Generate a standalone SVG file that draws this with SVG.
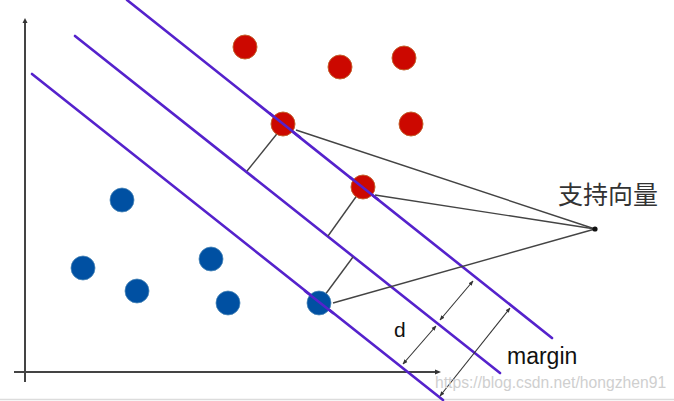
<svg xmlns="http://www.w3.org/2000/svg" width="674" height="401" viewBox="0 0 674 401">
<defs>
<marker id="ah" viewBox="0 0 10 10" refX="9" refY="5" markerWidth="5" markerHeight="5" orient="auto-start-reverse" markerUnits="userSpaceOnUse">
<path d="M0,1 L10,5 L0,9 z" fill="#333"/>
</marker>
<style>
.axis{stroke:#444;stroke-width:2;fill:none}
.hyper{stroke:#5522cc;stroke-width:2.6;fill:none;stroke-linecap:round}
.thin{stroke:#444;stroke-width:1.4;fill:none}
.dim{stroke:#333;stroke-width:1.1;fill:none;marker-start:url(#ah);marker-end:url(#ah)}
.red{fill:#cc0800;stroke:#c4602c;stroke-width:1}
.blue{fill:#0050a2;stroke:#4a86b8;stroke-width:0.8}
.lbl{font-family:"Liberation Sans",Arial,sans-serif;fill:#111}
</style>
</defs>
<rect width="674" height="401" fill="#fff"/>
<line x1="0" y1="399.5" x2="674" y2="399.5" stroke="#dcdcdc" stroke-width="1.5"/>
<g id="axes">
<line class="axis" x1="25" y1="21" x2="25" y2="382"/>
<line class="axis" x1="14" y1="372" x2="436" y2="372"/>
<path d="M22.5,23 L25,18 L27.5,23 z" fill="#333"/>
<path d="M435,369.5 L441,372 L435,374.5 z" fill="#333"/>
</g>
<g id="hyperplanes">
<line class="hyper" x1="127" y1="0" x2="552" y2="338"/>
<line class="hyper" x1="75" y1="36" x2="500" y2="373"/>
<line class="hyper" x1="32" y1="74" x2="443" y2="400"/>
</g>
<g id="connectors">
<line class="thin" x1="284" y1="125" x2="247" y2="171"/>
<line class="thin" x1="363" y1="187" x2="328" y2="236"/>
<line class="thin" x1="319" y1="303" x2="353" y2="257"/>
<line class="thin" x1="296" y1="130" x2="595" y2="229"/>
<line class="thin" x1="375" y1="195" x2="595" y2="229"/>
<line class="thin" x1="333" y1="303" x2="595" y2="229"/>
<line class="dim" x1="403" y1="364" x2="436" y2="326"/>
<line class="dim" x1="440" y1="320" x2="473" y2="281"/>
<line class="dim" x1="440" y1="396" x2="510" y2="308"/>
</g>
<g id="red-points">
<circle class="red" cx="245" cy="47" r="12"/>
<circle class="red" cx="340" cy="67" r="12"/>
<circle class="red" cx="404" cy="58" r="12"/>
<circle class="red" cx="411" cy="124" r="12"/>
<circle class="red" cx="283" cy="124" r="12"/>
<circle class="red" cx="363" cy="187" r="12"/>
</g>
<g id="blue-points">
<circle class="blue" cx="122" cy="200" r="12"/>
<circle class="blue" cx="83" cy="268" r="12"/>
<circle class="blue" cx="137" cy="291" r="12"/>
<circle class="blue" cx="211" cy="259" r="12"/>
<circle class="blue" cx="228" cy="303" r="12"/>
<circle class="blue" cx="319" cy="303" r="12"/>
</g>
<g id="redraw-lines">
<line class="hyper" x1="270" y1="113.4" x2="300" y2="137.3"/>
<line class="hyper" x1="350" y1="177.3" x2="378" y2="199.5"/>
<line class="hyper" x1="305" y1="291" x2="333" y2="313"/>
</g>
<g id="support-vectors-label">
<circle cx="595" cy="229" r="2.6" fill="#111"/>
<text x="558" y="204" font-family="'Noto Sans CJK SC','Noto Sans',sans-serif" font-size="25" fill="#333">支持向量</text>
</g>
<g id="d-label"><text class="lbl" x="394" y="337" font-size="21">d</text></g>
<g id="margin-label"><text class="lbl" x="507" y="364" font-size="23">margin</text></g>
<text x="435" y="388" font-family="'Liberation Sans',Arial,sans-serif" font-size="15.7" fill="#cfcfcf">https://blog.csdn.net/hongzhen91</text>
</svg>
